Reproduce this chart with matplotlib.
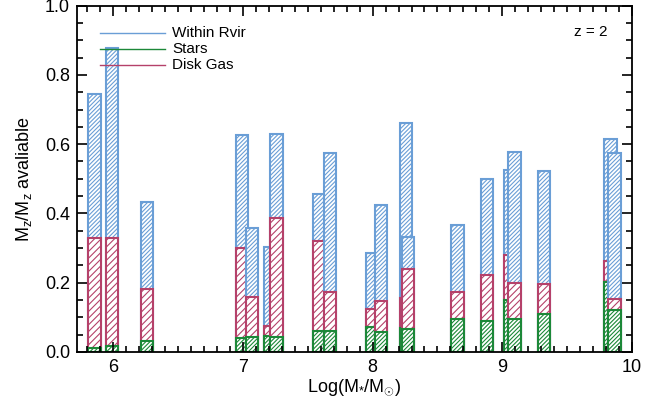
import numpy as np
import matplotlib.pyplot as plt
from matplotlib.ticker import MultipleLocator

plt.rcParams['font.family'] = ['Liberation Sans', 'DejaVu Sans']
plt.rcParams['mathtext.fontset'] = 'custom'
plt.rcParams['mathtext.rm'] = 'Liberation Sans'
plt.rcParams['mathtext.it'] = 'Liberation Sans'
plt.rcParams['hatch.linewidth'] = 0.8

# log stellar mass of each galaxy
logm = [5.855, 5.99, 6.26, 6.995, 7.07, 7.21, 7.26, 7.585, 7.67, 7.995,
        8.065, 8.26, 8.275, 8.655, 8.88, 9.06, 9.095, 9.32, 9.835, 9.865]
# metal fractions
within_rvir = [0.745, 0.877, 0.432, 0.626, 0.358, 0.304, 0.630, 0.455, 0.573, 0.286,
               0.423, 0.660, 0.332, 0.367, 0.498, 0.524, 0.577, 0.522, 0.614, 0.573]
disk_gas = [0.329, 0.329, 0.182, 0.300, 0.158, 0.075, 0.386, 0.319, 0.172, 0.125,
            0.148, 0.155, 0.240, 0.174, 0.223, 0.281, 0.200, 0.195, 0.263, 0.153]
stars = [0.012, 0.018, 0.030, 0.041, 0.044, 0.047, 0.044, 0.060, 0.061, 0.072,
         0.057, 0.069, 0.066, 0.096, 0.090, 0.150, 0.096, 0.109, 0.203, 0.121]

c_blue = '#6a9ed6'
c_red = '#b5416a'
c_green = '#1c8838'
w = 0.095

fig = plt.figure(figsize=(6.57, 4.04), dpi=100)
ax = fig.add_axes([0.117, 0.129, 0.845, 0.857])

for i in range(len(logm)):
    ax.bar(logm[i], within_rvir[i], width=w, facecolor='white', edgecolor=c_blue,
           hatch='////////', linewidth=1.5)
    ax.bar(logm[i], disk_gas[i], width=w, facecolor='white', edgecolor=c_red,
           hatch='/////', linewidth=1.5)
    ax.bar(logm[i], stars[i], width=w, facecolor='white', edgecolor=c_green,
           hatch='////////', linewidth=1.5)

ax.set_xlim(5.72, 10.0)
ax.set_ylim(0, 1.0)
ax.set_xticks([6, 7, 8, 9, 10])
ax.set_yticks(np.arange(0, 1.01, 0.2))
ax.set_yticklabels(['0.0', '0.2', '0.4', '0.6', '0.8', '1.0'])
ax.xaxis.set_minor_locator(MultipleLocator(0.1))
ax.yaxis.set_minor_locator(MultipleLocator(0.05))
ax.tick_params(which='both', direction='in', top=True, right=True, labelsize=13, width=1.2)
ax.tick_params(which='major', length=7, pad=5)
ax.tick_params(which='minor', length=4)
for s in ax.spines.values():
    s.set_linewidth(1.3)

ax.set_xlabel(r'Log(M$_{*}$/M$_{\odot}$)', fontsize=13, labelpad=1)
ax.set_ylabel(r'M$_z$/M$_z$ avaliable', fontsize=13, labelpad=8)

# legend drawn by hand like the original
ax.plot([0.041, 0.159], [0.922, 0.922], color=c_blue, lw=1, transform=ax.transAxes)
ax.plot([0.041, 0.159], [0.876, 0.876], color=c_green, lw=1, transform=ax.transAxes)
ax.plot([0.041, 0.159], [0.830, 0.830], color=c_red, lw=1, transform=ax.transAxes)
ax.text(0.172, 0.922, 'Within Rvir', fontsize=11, va='center', transform=ax.transAxes)
ax.text(0.172, 0.876, 'Stars', fontsize=11, va='center', transform=ax.transAxes)
ax.text(0.172, 0.830, 'Disk Gas', fontsize=11, va='center', transform=ax.transAxes)
ax.text(0.955, 0.925, 'z = 2', fontsize=11, va='center', ha='right', transform=ax.transAxes)

fig.savefig('out.png', dpi=100)
